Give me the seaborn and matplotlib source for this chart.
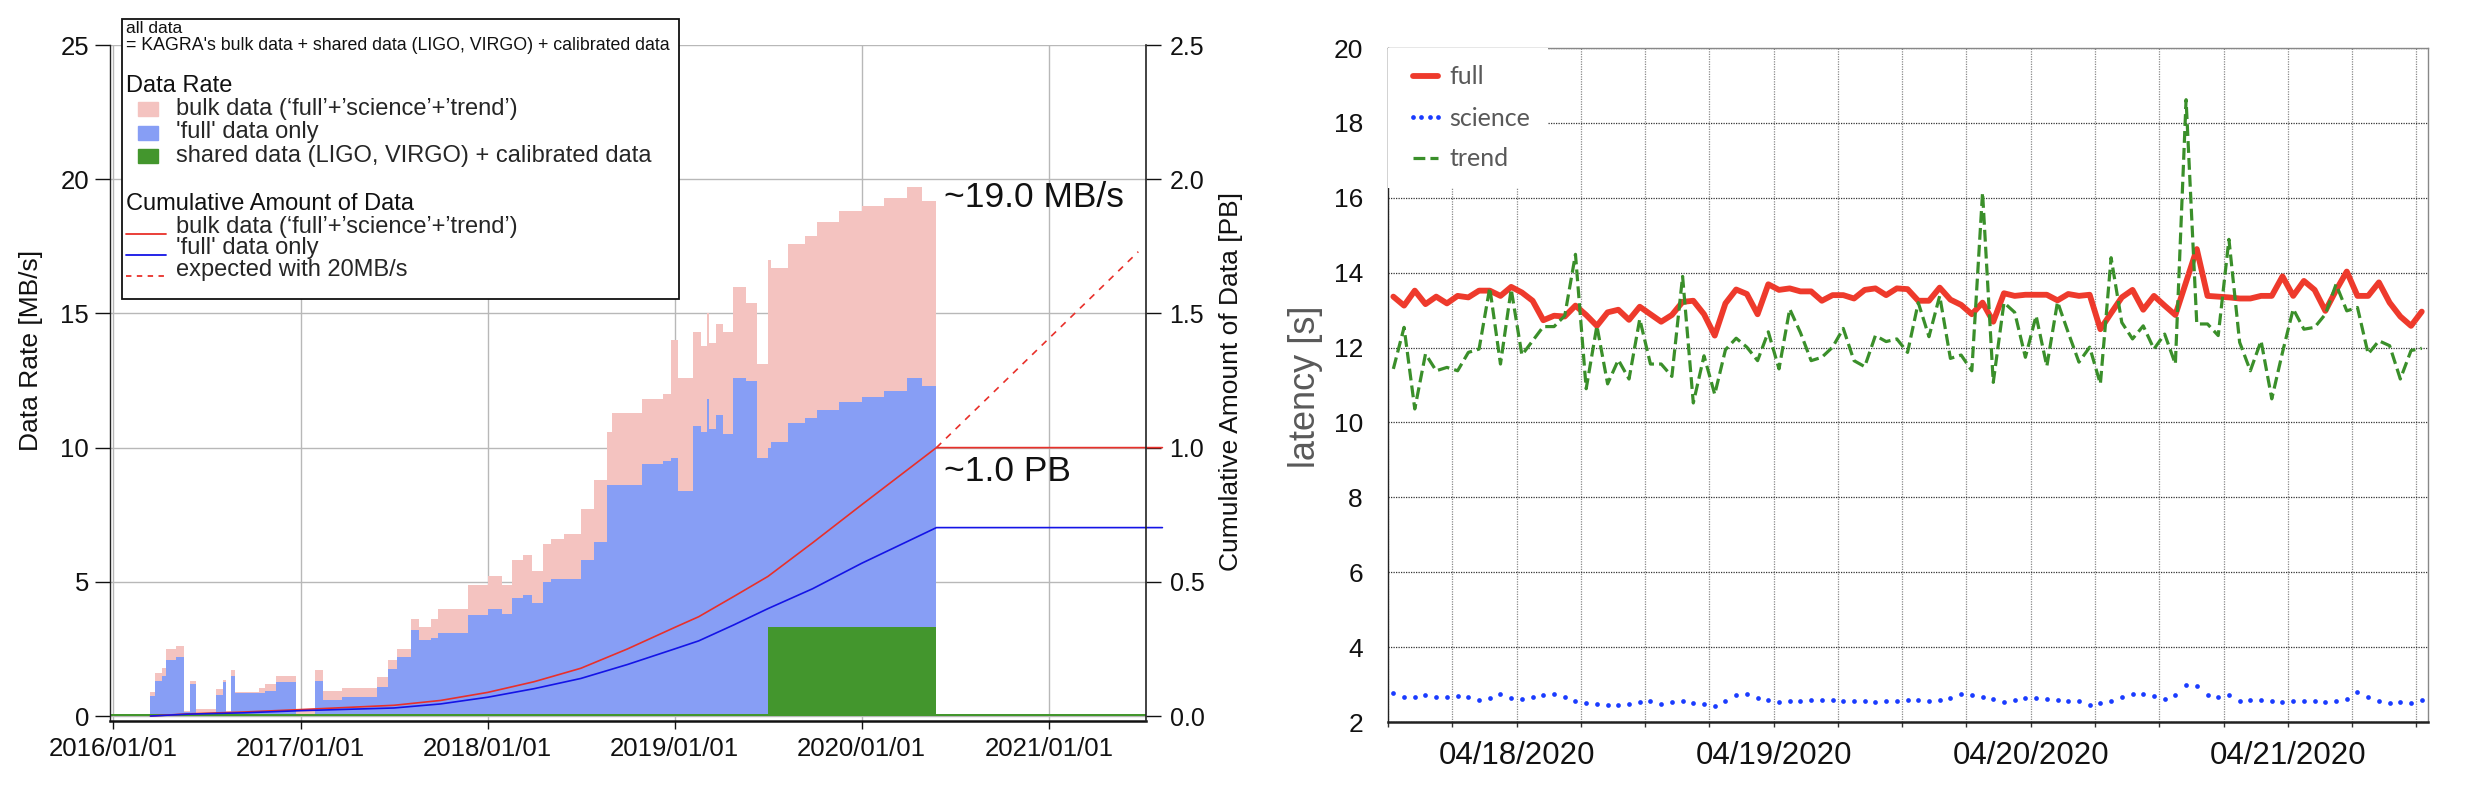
import numpy as np
import pandas as pd
import seaborn as sns
import matplotlib
matplotlib.use("Agg")
import matplotlib.pyplot as plt
import matplotlib.dates as mdates
from matplotlib.ticker import FormatStrFormatter
from matplotlib.patches import Rectangle, Patch
from matplotlib.lines import Line2D
from matplotlib.legend_handler import HandlerPatch, HandlerLine2D

# ---------------- data: left panel (data rate / cumulative amount) ----------------
rate_dates = ["2016-03-14", "2016-03-22", "2016-04-05", "2016-04-13", "2016-05-03", "2016-05-19",
              "2016-05-30", "2016-06-10", "2016-07-20", "2016-08-02", "2016-08-08", "2016-08-18",
              "2016-08-26", "2016-10-12", "2016-10-23", "2016-11-14", "2016-12-23", "2017-01-30",
              "2017-02-14", "2017-03-22", "2017-05-30", "2017-06-21", "2017-07-09", "2017-08-04",
              "2017-08-20", "2017-09-13", "2017-09-27", "2017-11-24", "2018-01-01", "2018-01-30",
              "2018-02-17", "2018-03-11", "2018-03-29", "2018-04-20", "2018-05-05", "2018-05-30",
              "2018-07-02", "2018-07-27", "2018-08-22", "2018-08-31", "2018-10-30", "2018-12-09",
              "2018-12-25", "2019-01-08", "2019-02-06", "2019-02-21", "2019-03-05", "2019-03-10",
              "2019-03-22", "2019-04-05", "2019-04-24", "2019-05-21", "2019-06-10", "2019-07-02",
              "2019-07-09", "2019-08-11", "2019-09-13", "2019-10-05", "2019-11-18", "2020-01-01",
              "2020-02-14", "2020-03-29", "2020-04-27", "2020-05-26"]
bulk_rate = [0.9, 1.6, 1.8, 2.5, 2.6, 0.2,
             1.3, 0.25, 1.0, 1.35, 0.2, 1.7,
             0.9, 1.05, 1.2, 1.5, 0.25, 1.7,
             0.95, 1.05, 1.45, 2.1, 2.5, 3.6,
             3.3, 3.6, 4.0, 4.9, 5.2, 4.9,
             5.8, 6.0, 5.4, 6.4, 6.6, 6.8,
             7.7, 8.8, 10.6, 11.3, 11.8, 12.0,
             14.0, 12.6, 14.3, 13.8, 15.0, 13.9,
             14.6, 14.3, 16.0, 15.4, 13.1, 17.0,
             16.7, 17.6, 17.9, 18.4, 18.8, 19.0,
             19.3, 19.7, 19.2, 0.0]
full_rate = [0.75, 1.3, 1.5, 2.1, 2.2, 0.15,
             1.2, 0.12, 0.8, 1.25, 0.1, 1.5,
             0.85, 0.85, 0.95, 1.25, 0.0, 1.3,
             0.6, 0.7, 1.1, 1.75, 2.2, 3.2,
             2.85, 2.9, 3.1, 3.75, 4.0, 3.8,
             4.4, 4.5, 4.2, 5.0, 5.1, 5.1,
             5.8, 6.5, 8.6, 8.6, 9.4, 9.5,
             9.6, 8.4, 10.8, 10.6, 11.8, 10.7,
             11.2, 10.5, 12.6, 12.5, 9.6, 10.0,
             10.2, 10.9, 11.1, 11.4, 11.7, 11.9,
             12.1, 12.6, 12.3, 0.0]

shared_dates = ["2015-12-26", "2019-07-02", "2020-05-26", "2021-07-09"]
shared_rate = [0.07, 3.32, 0.07, 0.07]

cum_dates = ["2016-03-14", "2016-05-26", "2016-09-13", "2017-01-01", "2017-07-02", "2017-10-01",
             "2018-01-01", "2018-04-02", "2018-07-02", "2018-10-01", "2019-01-01", "2019-02-17",
             "2019-04-27", "2019-07-02", "2019-09-27", "2020-01-01", "2020-05-26", "2021-08-10"]
cum_bulk = [0.0, 0.008, 0.015, 0.024, 0.040, 0.058,
            0.088, 0.128, 0.178, 0.25, 0.33, 0.37,
            0.446, 0.52, 0.645, 0.787, 1.0, 1.0]
cum_full = [0.0, 0.007, 0.012, 0.020, 0.030, 0.045,
            0.070, 0.102, 0.140, 0.192, 0.25, 0.28,
            0.34, 0.40, 0.474, 0.569, 0.702, 0.702]

exp_dates = ["2020-05-26", "2021-06-24"]
exp_pb = [1.0, 1.73]

# ---------------- data: right panel (latency) ----------------
lat_start = "2020-04-17 12:30"
full_lat = [13.36, 13.12, 13.52, 13.16, 13.36, 13.18, 13.38, 13.34, 13.52, 13.52,
            13.38, 13.62, 13.47, 13.25, 12.73, 12.85, 12.83, 13.12, 12.87, 12.58,
            12.94, 13.01, 12.74, 13.09, 12.89, 12.69, 12.87, 13.22, 13.25, 12.89,
            12.32, 13.18, 13.55, 13.43, 12.89, 13.69, 13.54, 13.58, 13.50, 13.50,
            13.25, 13.40, 13.40, 13.31, 13.54, 13.58, 13.40, 13.58, 13.56, 13.25,
            13.25, 13.60, 13.28, 13.14, 12.89, 13.20, 12.69, 13.45, 13.38, 13.41,
            13.41, 13.41, 13.26, 13.43, 13.38, 13.41, 12.49, 12.92, 13.34, 13.54,
            13.01, 13.38, 13.12, 12.87, 13.75, 14.63, 13.38, 13.36, 13.34, 13.31,
            13.31, 13.38, 13.38, 13.90, 13.38, 13.78, 13.54, 12.98, 13.53, 14.03,
            13.38, 13.38, 13.74, 13.20, 12.83, 12.58, 12.96]
science_lat = [2.77, 2.68, 2.66, 2.73, 2.68, 2.66, 2.69, 2.67, 2.58, 2.65,
               2.75, 2.64, 2.61, 2.66, 2.71, 2.75, 2.68, 2.56, 2.52, 2.48,
               2.45, 2.45, 2.47, 2.54, 2.56, 2.49, 2.53, 2.57, 2.51, 2.47,
               2.42, 2.57, 2.73, 2.76, 2.65, 2.60, 2.53, 2.57, 2.57, 2.58,
               2.60, 2.60, 2.57, 2.57, 2.57, 2.54, 2.55,
               2.55, 2.58, 2.58, 2.57, 2.60, 2.65, 2.75, 2.71, 2.66, 2.61,
               2.53, 2.60, 2.65, 2.65, 2.61, 2.60, 2.57, 2.55, 2.46, 2.51,
               2.56, 2.66, 2.74, 2.76, 2.70, 2.62, 2.73, 2.99, 2.96, 2.73,
               2.66, 2.73, 2.56, 2.60, 2.60, 2.57, 2.53, 2.57, 2.57, 2.57,
               2.53, 2.57, 2.61, 2.80, 2.67, 2.55, 2.50, 2.53, 2.50, 2.60]
trend_lat = [11.43, 12.54, 10.36, 11.83, 11.38, 11.47, 11.38, 11.87, 11.96, 13.60,
             11.56, 13.56, 11.80, 12.18, 12.56, 12.56, 12.85, 14.49, 10.90, 12.58,
             11.03, 11.67, 11.16, 12.76, 11.56, 11.56, 11.23, 13.90, 10.52, 11.78,
             10.75, 11.94, 12.25, 12.01, 11.65, 12.42, 11.43, 13.03, 12.40, 11.65,
             11.74, 12.01, 12.51, 11.65, 11.49, 12.32, 12.16, 12.23, 11.87, 13.20,
             12.29, 13.38, 11.71, 11.80, 11.38, 16.14, 11.07, 13.20, 12.94, 11.74,
             12.85, 11.50, 13.22, 12.40, 11.61, 12.01, 11.03, 14.40, 12.67, 12.23,
             12.58, 11.96, 12.36, 11.56, 18.62, 12.63, 12.63, 12.32, 14.89, 12.14,
             11.38, 12.18, 10.63, 11.87, 13.03, 12.49, 12.54, 12.89, 13.69, 12.98,
             13.07, 11.83, 12.18, 12.05, 11.16, 11.92, 11.98]

PINK, BLUE_AREA, GREEN_AREA = "#f4c3c0", "#879ef5", "#43962d"
RED_LINE, BLUE_LINE = "#e8302a", "#1414e6"
RED, BLUE, GREEN = "#ee3a2c", "#1a3cff", "#3a8f2a"
GREY_TXT = "#595959"
INK = "#111111"

sns.set_theme(style="white")
plt.rcParams['font.family'] = ['Liberation Sans', 'DejaVu Sans']

W, H = 2476, 796
fig = plt.figure(figsize=(W / 100, H / 100), dpi=100)

# ================= left panel =================
ax = fig.add_axes([110 / W, 74.6 / H, 1036 / W, 676.4 / H])
ax2 = ax.twinx()

rate = pd.DataFrame({"date": pd.to_datetime(rate_dates), "bulk": bulk_rate, "full": full_rate})
shared = pd.DataFrame({"date": pd.to_datetime(shared_dates), "rate": shared_rate})
ax.fill_between(rate["date"], 0, rate["bulk"], step="post", color=PINK, lw=0)
ax.fill_between(rate["date"], 0, rate["full"], step="post", color=BLUE_AREA, lw=0)
ax.fill_between(shared["date"], 0, shared["rate"], step="post", color=GREEN_AREA, lw=0)

cum = pd.DataFrame({"date": pd.to_datetime(cum_dates), "bulk": cum_bulk, "full": cum_full})
sns.lineplot(data=cum, x="date", y="bulk", ax=ax2, color=RED_LINE, lw=1.2, clip_on=False)
sns.lineplot(data=cum, x="date", y="full", ax=ax2, color=BLUE_LINE, lw=1.2, clip_on=False)
sns.lineplot(x=pd.to_datetime(exp_dates), y=exp_pb, ax=ax2, color=RED_LINE, lw=1.2,
             linestyle=(0, (4, 4)))

ax.set_xlim(pd.Timestamp("2015-12-26"), pd.Timestamp("2021-07-09"))
ax.set_ylim(-0.2, 25)
ax2.set_ylim(-0.02, 2.5)
ax.xaxis.set_major_locator(mdates.YearLocator())
ax.xaxis.set_major_formatter(mdates.DateFormatter("%Y/%m/%d"))
ax.set_yticks([0, 5, 10, 15, 20, 25])
ax2.set_yticks([0, 0.5, 1.0, 1.5, 2.0, 2.5])
ax2.yaxis.set_major_formatter(FormatStrFormatter("%.1f"))

ax.grid(True, color="#b8b8b8", lw=1.0)
ax.set_axisbelow(True)
for s in ["top", "right"]:
    ax.spines[s].set_visible(False)
for s in ["top", "left", "bottom"]:
    ax2.spines[s].set_visible(False)
ax.spines["left"].set_color("#222222")
ax.spines["left"].set_linewidth(1.0)
ax.spines["bottom"].set_color(INK)
ax.spines["bottom"].set_linewidth(1.8)
ax2.spines["right"].set_color("#222222")
ax2.spines["right"].set_linewidth(1.2)

ax.tick_params(axis="x", bottom=True, length=5.5, width=1, pad=6, labelsize=18.5, colors=INK)
ax.tick_params(axis="y", left=True, length=11, width=1, pad=4, labelsize=18.5, colors=INK)
ax2.tick_params(axis="y", right=True, length=11, width=1, pad=6, labelsize=18, colors=INK)
ax.set_xlabel("")
ax.set_ylabel("Data Rate [MB/s]", fontsize=19, color=INK)
ax.yaxis.set_label_coords(-0.0647, 0.549)
ax2.set_xlabel("")
ax2.set_ylabel("Cumulative Amount of Data [PB]", fontsize=19, color=INK)
ax2.yaxis.set_label_coords(1.070, 0.502)

ax.text(pd.Timestamp("2020-06-09"), 19.3, "~19.0 MB/s", fontsize=25.5, va="center", color=INK)
ax2.text(pd.Timestamp("2020-06-09"), 0.91, "~1.0 PB", fontsize=25.5, va="center", color=INK)

# legend box with two grouped legends inside one frame
ax2.add_patch(Rectangle((0.0116, 0.624), 0.5376, 0.414, transform=ax2.transAxes,
                        fc="white", ec=INK, lw=1.3, zorder=10, clip_on=False))
ax2.text(0.0159, 1.024, "all data", transform=ax2.transAxes, fontsize=12.5,
         va="center", zorder=11, color=INK)
ax2.text(0.0159, 0.999, "= KAGRA's bulk data + shared data (LIGO, VIRGO) + calibrated data",
         transform=ax2.transAxes, fontsize=12.8, va="center", zorder=11, color=INK)
ax2.text(0.0159, 0.9395, "Data Rate", transform=ax2.transAxes, fontsize=17,
         va="center", zorder=11, color=INK)
ax2.text(0.0159, 0.7650, "Cumulative Amount of Data", transform=ax2.transAxes, fontsize=17,
         va="center", zorder=11, color=INK)


def small_square(legend, orig_handle, xdescent, ydescent, width, height, fontsize):
    return Rectangle((-xdescent + 0.36 * width, -ydescent - 0.1 * height), 0.62 * width, 0.85 * height)


class LowLine(HandlerLine2D):
    def create_artists(self, legend, orig_handle, xdescent, ydescent, width, height, fontsize, trans):
        arts = super().create_artists(legend, orig_handle, xdescent, ydescent, width, height, fontsize, trans)
        for a in arts:
            a.set_ydata(np.full(len(a.get_xdata()), -ydescent - 0.05 * height))
        return arts


handles_a = [Patch(color=PINK), Patch(color=BLUE_AREA), Patch(color=GREEN_AREA)]
labels_a = ["bulk data (\u2018full\u2019+\u2019science\u2019+\u2019trend\u2019)",
            "'full' data only",
            "shared data (LIGO, VIRGO) + calibrated data"]
leg_a = ax2.legend(handles_a, labels_a, loc="upper left",
                   bbox_to_anchor=(0.0159, 0.9221), bbox_transform=ax2.transAxes, frameon=False,
                   borderpad=0, borderaxespad=0, fontsize=17,
                   handlelength=1.36, handletextpad=0.74, labelspacing=0.06,
                   handler_map={Patch: HandlerPatch(patch_func=small_square)})
leg_a.set_zorder(12)
ax2.add_artist(leg_a)

handles_b = [Line2D([], [], color=RED_LINE, lw=1.3),
             Line2D([], [], color=BLUE_LINE, lw=1.3),
             Line2D([], [], color=RED_LINE, lw=1.3, ls=(0, (3, 3)))]
labels_b = ["bulk data (\u2018full\u2019+\u2019science\u2019+\u2019trend\u2019)",
            "'full' data only", "expected with 20MB/s"]
leg_b = ax2.legend(handles_b, labels_b, loc="upper left",
                   bbox_to_anchor=(0.0159, 0.7476), bbox_transform=ax2.transAxes,
                   frameon=False, borderpad=0, borderaxespad=0, fontsize=17,
                   handlelength=1.68, handletextpad=0.42, labelspacing=-0.025,
                   handler_map={Line2D: LowLine()})
leg_b.set_zorder(12)

# ================= right panel =================
axr = fig.add_axes([1388 / W, 74 / H, 1040 / W, 674 / H])
t = pd.date_range(lat_start, periods=len(full_lat), freq="h")
lat = pd.DataFrame({"time": t, "full": full_lat, "science": science_lat, "trend": trend_lat})

sns.lineplot(data=lat, x="time", y="full", ax=axr, color=RED, lw=4.2, label="full")
sns.lineplot(data=lat, x="time", y="science", ax=axr, color=BLUE, lw=0, marker="o",
             markersize=3.4, markeredgewidth=0, label="science")
sns.lineplot(data=lat, x="time", y="trend", ax=axr, color=GREEN, lw=2.3, linestyle="--", label="trend")

axr.set_xlim(pd.Timestamp("2020-04-17 12:00"), pd.Timestamp("2020-04-21 13:05"))
axr.set_ylim(2, 20)
axr.set_yticks(range(2, 21, 2))
axr.xaxis.set_major_locator(mdates.DayLocator())
axr.xaxis.set_major_formatter(mdates.DateFormatter("%m/%d/%Y"))
axr.xaxis.set_minor_locator(mdates.HourLocator(byhour=[6, 12, 18]))
axr.grid(True, which="both", axis="x", color="#8a8a8a", ls=(0, (1, 1)), lw=0.9)
axr.grid(True, which="major", axis="y", color="#333333", ls=(0, (1, 1)), lw=0.9)
axr.set_axisbelow(True)

axr.tick_params(axis="x", which="both", bottom=True, length=3.6, width=1, direction="out",
                color="#333333", labelsize=22.5, pad=10, labelcolor=INK)
axr.tick_params(axis="y", left=False, length=0, pad=18, labelsize=19, labelcolor=INK)
axr.spines["left"].set_color("#222222")
axr.spines["left"].set_linewidth(1.0)
axr.spines["bottom"].set_color("#222222")
axr.spines["bottom"].set_linewidth(1.8)
for s in ["top", "right"]:
    axr.spines[s].set_color("#888888")
    axr.spines[s].set_linewidth(1.0)

axr.set_xlabel("")
axr.set_ylabel("latency [s]", fontsize=26, color=GREY_TXT)
axr.yaxis.set_label_coords(-0.0625, 0.497)

leg_r = axr.legend(loc="upper left", bbox_to_anchor=(0, 1), borderaxespad=0, borderpad=0.7,
                   frameon=True, facecolor="white", edgecolor="none", framealpha=1, fancybox=False,
                   handlelength=1.6, handletextpad=0.15, labelspacing=0.72, numpoints=4,
                   prop={"family": "Lato", "size": 18}, labelcolor=GREY_TXT)

fig.savefig("out.png", dpi=100)
